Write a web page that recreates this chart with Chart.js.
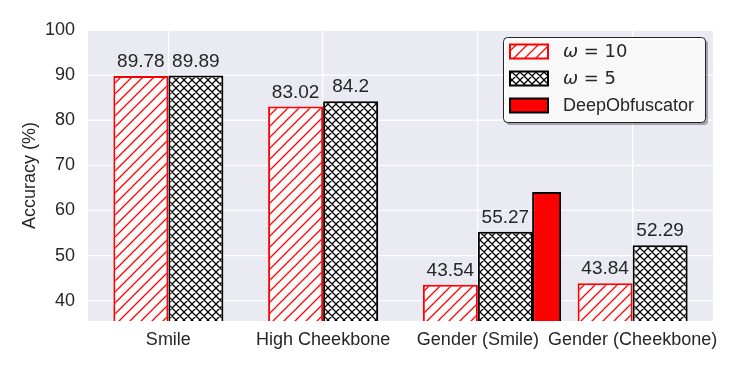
<!DOCTYPE html>
<html>
<head>
<meta charset="utf-8">
<script src="https://cdn.jsdelivr.net/npm/chart.js@4.4.1/dist/chart.umd.min.js"></script>
<style>
  body { margin: 0; background: #fff; }
</style>
</head>
<body>
<canvas id="myChart" width="747" height="374"></canvas>
<script>
var categories = ['Smile', 'High Cheekbone', 'Gender (Smile)', 'Gender (Cheekbone)'];
var omega10 = [89.78, 83.02, 43.54, 43.84];
var omega5 = [89.89, 84.2, 55.27, 52.29];
var deepObf = [null, null, 64.1, null];
var seriesNames = ['ω = 10', 'ω = 5', 'DeepObfuscator'];
var yTicks = [40, 50, 60, 70, 80, 90, 100];

var textColor = '#262626';
var extra = 3; // plot background reaches a bit past the outer categories

// hatch fill like matplotlib '///' and 'xxx'
function hatch(color, size, cross) {
  var c = document.createElement('canvas');
  c.width = c.height = size;
  var g = c.getContext('2d');
  g.fillStyle = '#fff';
  g.fillRect(0, 0, size, size);
  g.strokeStyle = color;
  g.lineWidth = 1.3;
  g.beginPath();
  g.moveTo(-1, size + 1); g.lineTo(size + 1, -1);
  g.moveTo(-2, 2); g.lineTo(2, -2);
  g.moveTo(size - 2, size + 2); g.lineTo(size + 2, size - 2);
  if (cross) {
    g.moveTo(-1, -1); g.lineTo(size + 1, size + 1);
    g.moveTo(size - 2, -2); g.lineTo(size + 2, 2);
    g.moveTo(-2, size - 2); g.lineTo(2, size + 2);
  }
  g.stroke();
  return g.createPattern(c, 'repeat');
}

var ctx = document.getElementById('myChart').getContext('2d');
var pat10 = hatch('#ff0000', 11, false);
var pat5 = hatch('#000000', 8, true);

var bgPlugin = {
  id: 'plotBg',
  beforeDraw: function (chart) {
    var a = chart.chartArea, c = chart.ctx;
    c.save();
    c.fillStyle = '#eaeaf2';
    c.fillRect(a.left - extra, a.top, a.right - a.left + 2 * extra, a.bottom - a.top);
    // horizontal grid lines across the full background
    var ys = chart.scales.y;
    c.strokeStyle = '#ffffff';
    c.lineWidth = 1.3;
    yTicks.forEach(function (v) {
      var py = ys.getPixelForValue(v);
      c.beginPath();
      c.moveTo(a.left - extra, py);
      c.lineTo(a.right + extra, py);
      c.stroke();
    });
    c.restore();
  }
};

var valuePlugin = {
  id: 'values',
  afterDatasetsDraw: function (chart) {
    var c = chart.ctx;
    c.save();
    c.font = '19px "Liberation Sans"';
    c.fillStyle = textColor;
    c.textAlign = 'center';
    c.textBaseline = 'alphabetic';
    [0, 1].forEach(function (i) {
      var vals = chart.data.datasets[i].data;
      chart.getDatasetMeta(i).data.forEach(function (bar, j) {
        if (vals[j] == null) return;
        c.fillText(String(vals[j]), bar.x, bar.y - 9);
      });
    });
    c.restore();
  }
};

var legendPlugin = {
  id: 'boxLegend',
  afterDraw: function (chart) {
    var c = chart.ctx;
    var bx = 503, by = 37, bw = 202, bh = 85;
    c.save();
    c.fillStyle = 'rgba(0,0,0,0.3)';
    c.beginPath(); c.roundRect(bx + 3, by + 3, bw, bh, 4); c.fill();
    c.fillStyle = 'rgba(255,255,255,0.92)';
    c.strokeStyle = '#222';
    c.lineWidth = 1;
    c.beginPath(); c.roundRect(bx + 0.5, by + 0.5, bw, bh, 4); c.fill(); c.stroke();

    chart.data.datasets.forEach(function (ds, i) {
      var cy = 51.5 + i * 27;
      c.fillStyle = ds.backgroundColor;
      c.fillRect(510, cy - 7, 38, 14);
      c.strokeStyle = ds.borderColor;
      c.lineWidth = 2;
      c.strokeRect(510, cy - 7, 38, 14);
      c.fillStyle = textColor;
      c.textBaseline = 'middle';
      c.textAlign = 'left';
      var label = ds.label;
      if (label.charAt(0) === 'ω') {
        c.font = 'italic 18px "DejaVu Sans"';
        c.fillText('ω', 563, cy + 1);
        var wOm = c.measureText('ω').width;
        c.font = '18px "DejaVu Sans"';
        c.fillText(label.slice(1), 563 + wOm, cy + 1);
      } else {
        c.font = '18px "Liberation Sans"';
        c.fillText(label, 563, cy + 1);
      }
    });
    c.restore();
  }
};

var chart = new Chart(ctx, {
  type: 'bar',
  data: {
    labels: categories,
    datasets: [{
      label: seriesNames[0],
      data: omega10,
      stack: 'a',
      backgroundColor: pat10,
      borderColor: '#ff0000',
      borderWidth: 2,
      borderSkipped: false,
      categoryPercentage: 0.711,
      barPercentage: 1
    }, {
      label: seriesNames[1],
      data: omega5,
      stack: 'b',
      backgroundColor: pat5,
      borderColor: '#000000',
      borderWidth: 2,
      borderSkipped: false,
      categoryPercentage: 0.711,
      barPercentage: 1
    }, {
      label: seriesNames[2],
      data: deepObf,
      stack: 'b',
      backgroundColor: '#ff0000',
      borderColor: '#000000',
      borderWidth: 2,
      borderSkipped: false,
      categoryPercentage: 1.777,
      barPercentage: 0.211
    }]
  },
  options: {
    responsive: false,
    animation: false,
    devicePixelRatio: 1,
    layout: { padding: { top: 30, right: 37, left: 0, bottom: 0 } },
    plugins: { legend: { display: false }, tooltip: { enabled: false } },
    scales: {
      x: {
        grid: { color: '#ffffff', lineWidth: 1.3, offset: false, drawTicks: false },
        border: { display: false },
        ticks: {
          color: textColor,
          font: { family: 'Liberation Sans', size: 18 },
          padding: 8,
          maxRotation: 0,
          autoSkip: false
        },
        afterFit: function (s) { s.height = 53; }
      },
      y: {
        min: 35.5,
        max: 100,
        stacked: false,
        afterBuildTicks: function (s) {
          s.ticks = yTicks.map(function (v) { return { value: v }; });
        },
        grid: { display: false, drawTicks: false },
        border: { display: false },
        ticks: {
          color: textColor,
          font: { family: 'Liberation Sans', size: 18 },
          padding: 16
        },
        title: {
          display: true,
          text: 'Accuracy (%)',
          color: textColor,
          font: { family: 'Liberation Sans', size: 18 },
          padding: { top: 19, bottom: 0 }
        },
        afterFit: function (s) { s.width = 91; }
      }
    }
  },
  plugins: [bgPlugin, valuePlugin, legendPlugin]
});
</script>
</body>
</html>
